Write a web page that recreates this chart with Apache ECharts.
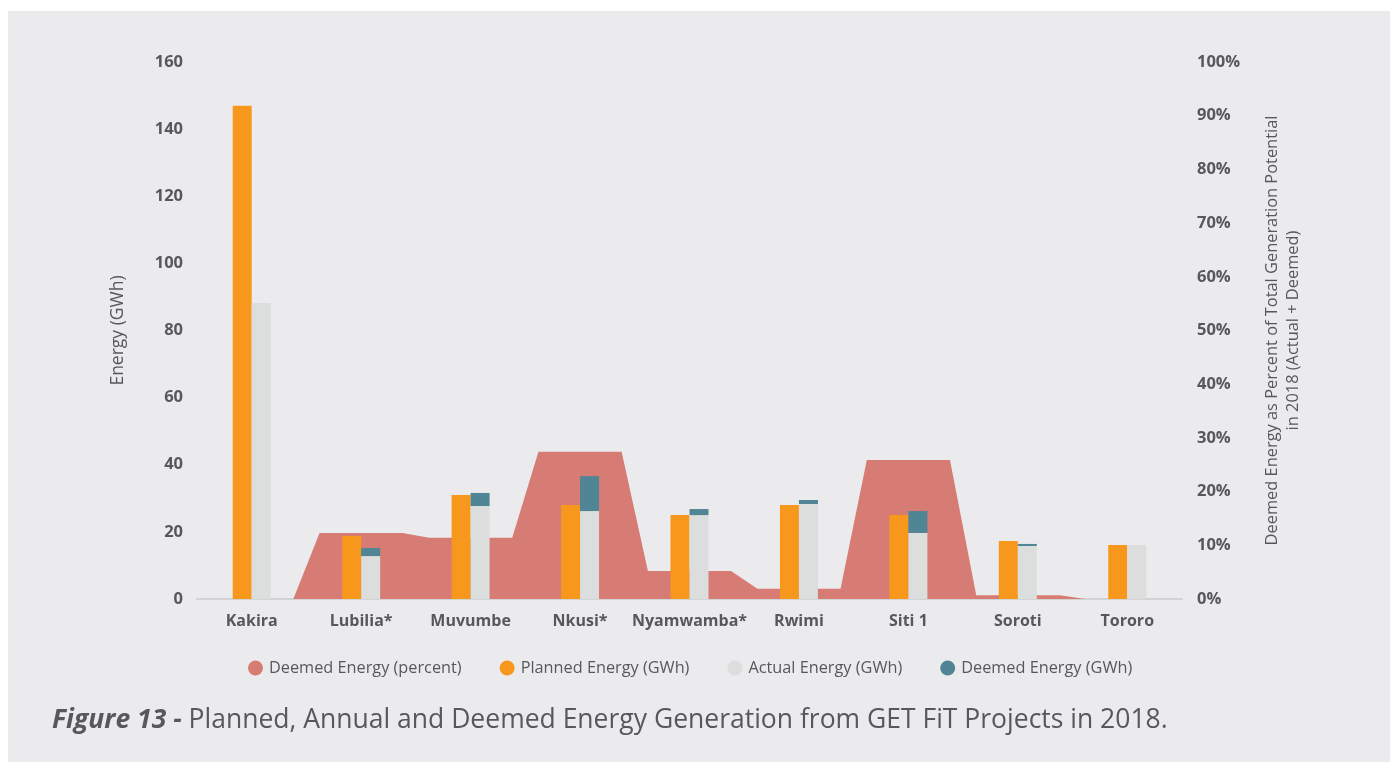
<!DOCTYPE html>
<html>
<head>
<meta charset="utf-8">
<script src="https://cdn.jsdelivr.net/npm/echarts@6/dist/echarts.min.js"></script>
<style>
html,body{margin:0;padding:0;background:#ffffff;}
#panel{position:absolute;left:8px;top:11px;width:1382px;height:751px;background:#ebebed;}
#chart{position:absolute;left:0;top:0;width:1394px;height:762px;}
</style>
</head>
<body>
<div id="panel"></div>
<div id="chart"></div>
<script>
const categories = ['Kakira','Lubilia*','Muvumbe','Nkusi*','Nyamwamba*','Rwimi','Siti 1','Soroti','Tororo'];
const plannedGWh = [147, 18.8, 31.0, 28.0, 25.0, 28.0, 25.0, 17.3, 16.1];
const actualGWh  = [88.2, 12.8, 27.7, 26.2, 25.0, 28.3, 19.7, 15.8, 16.1];
const deemedGWh  = [0, 2.4, 3.9, 10.4, 1.8, 1.2, 6.5, 0.6, 0];
const deemedPct  = [0, 12.3, 11.4, 27.4, 5.2, 1.9, 25.9, 0.7, 0];
const leftTicks = [0, 20, 40, 60, 80, 100, 120, 140, 160];
const rightTicks = [0,10,20,30,40,50,60,70,80,90,100];

// area: each category holds a flat plateau around its center on a hidden value x-axis
const half = 0.38;
const areaData = [];
deemedPct.forEach((v, i) => { areaData.push([i - half, v]); areaData.push([i + half, v]); });

const FONT = '"Open Sans", "Noto Sans", sans-serif';
const chart = echarts.init(document.getElementById('chart'), null, {renderer: 'canvas'});
chart.setOption({
  backgroundColor: 'transparent',
  animation: false,
  textStyle: {fontFamily: FONT},
  grid: {left: 197, right: 212, top: 62, bottom: 163},
  legend: {
    left: 243, top: 655,
    icon: 'circle', itemWidth: 15, itemHeight: 15, itemGap: 38,
    textStyle: {fontFamily: FONT, fontSize: 16.3, color: '#58585a', padding: [0,0,0,1]},
    data: ['Deemed Energy (percent)','Planned Energy (GWh)','Actual Energy (GWh)','Deemed Energy (GWh)']
  },
  xAxis: [
    {type: 'category', data: categories, axisTick: {show: false},
     axisLine: {lineStyle: {color: '#d2d3d3', width: 2}},
     axisLabel: {interval: 0, fontFamily: FONT, fontSize: 16, fontWeight: 'bold', color: '#58585a', margin: 14}},
    {type: 'value', min: -0.5, max: 8.5, show: false}
  ],
  yAxis: [
    {type: 'value', min: 0, max: 160, interval: 20, position: 'left',
     name: 'Energy (GWh)', nameLocation: 'middle', nameGap: 70, nameRotate: 90,
     nameTextStyle: {fontFamily: FONT, fontSize: 17.5, color: '#58585a'},
     axisLine: {show: false}, axisTick: {show: false}, splitLine: {show: false},
     axisLabel: {fontFamily: FONT, fontSize: 16.5, fontWeight: 'bold', color: '#58585a', margin: 14,
       formatter: v => leftTicks.includes(v) ? String(v) : ''}},
    {type: 'value', min: 0, max: 100, interval: 10, position: 'right',
     name: 'Deemed Energy as Percent of Total Generation Potential\nin 2018 (Actual + Deemed)',
     nameLocation: 'middle', nameGap: 80, nameRotate: 90,
     nameTextStyle: {fontFamily: FONT, fontSize: 16.4, color: '#58585a', lineHeight: 21, align: 'center'},
     axisLine: {show: false}, axisTick: {show: false}, splitLine: {show: false},
     axisLabel: {fontFamily: FONT, fontSize: 16.5, fontWeight: 'bold', color: '#58585a', margin: 15,
       formatter: v => rightTicks.includes(v) ? v + '%' : ''}}
  ],
  series: [
    {name: 'Deemed Energy (percent)', type: 'line', xAxisIndex: 1, yAxisIndex: 1,
     data: areaData, showSymbol: false, symbol: 'none',
     lineStyle: {width: 0, color: '#d67c74'}, itemStyle: {color: '#d67c74'},
     areaStyle: {color: '#d67c74', opacity: 1}, z: 1},
    {name: 'Planned Energy (GWh)', type: 'bar', data: plannedGWh, barWidth: 19, barGap: '0%',
     itemStyle: {color: '#f7981d'}, z: 3},
    {name: 'Actual Energy (GWh)', type: 'bar', data: actualGWh, stack: 'act', barWidth: 19, barGap: '0%',
     itemStyle: {color: '#dcdddd'}, z: 3},
    {name: 'Deemed Energy (GWh)', type: 'bar', data: deemedGWh, stack: 'act', barWidth: 19, barGap: '0%',
     itemStyle: {color: '#4f8594'}, z: 3}
  ],
  graphic: [{
    type: 'text', left: 52, top: 707,
    style: {
      text: '{b|Figure 13 - }{r|Planned, Annual and Deemed Energy Generation from GET FiT Projects in 2018.}',
      rich: {
        b: {fontFamily: FONT, fontSize: 26.5, fontStyle: 'italic', fontWeight: 'bold', fill: '#58585a'},
        r: {fontFamily: FONT, fontSize: 26.5, fill: '#58585a'}
      }
    }
  }]
});
</script>
</body>
</html>
